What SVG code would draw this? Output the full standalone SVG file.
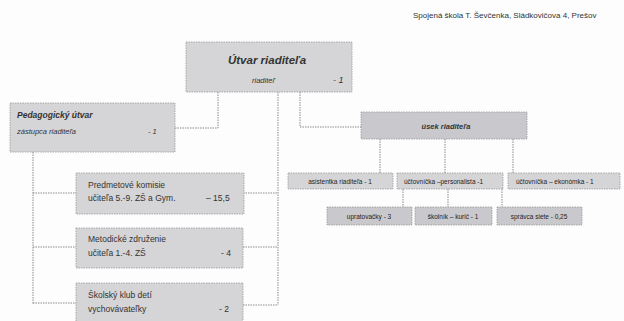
<svg xmlns="http://www.w3.org/2000/svg" width="624" height="321" viewBox="0 0 624 321">
<style>
text{font-family:"Liberation Sans",Arial,sans-serif;fill:#333}
.box{fill:#d5d5d7;stroke:#9a9a9a;stroke-width:0.8;stroke-dasharray:1.5,1}
.dark{fill:#c9c9cd}
.con{fill:none;stroke:#8a8a8a;stroke-width:1;stroke-dasharray:1.5,1}
.it{font-style:italic}
.s{font-size:7.5px}
.m{font-size:8.5px}
.t{font-size:6.5px;fill:#222}
</style>
<rect width="624" height="321" fill="#fdfdfd"/>
<text x="413" y="18" font-size="8">Spojená škola T. Ševčenka, Sládkovičova 4, Prešov</text>
<g id="connectors">
<path class="con" d="M218 92 V128 H175"/>
<path class="con" d="M278 92 V305"/>
<path class="con" d="M243 193 H278 M243 247 H278 M243 305 H278"/>
<path class="con" d="M300 92 V127 H361"/>
<path class="con" d="M33 152 V304 M33 193 H76 M33 247 H76 M33 303 H76"/>
<path class="con" d="M380 139 V173 M445 139 V173 M513 139 V173"/>
<path class="con" d="M403 189 V207 M448 189 V207 M502 189 V207"/>
</g>
<g id="n-utvar">
<rect class="box" x="186" y="42" width="166" height="50"/>
<text x="267" y="64" font-size="11.5" font-weight="bold" font-style="italic" text-anchor="middle">Útvar riaditeľa</text>
<text x="252" y="83" class="it s">riaditeľ</text>
<text x="333" y="83" class="it" font-size="9">- 1</text>
</g>
<g id="n-ped">
<rect class="box" x="10" y="103" width="165" height="49"/>
<text x="17" y="118" class="it m" font-weight="bold">Pedagogický útvar</text>
<text x="17" y="134" class="it s">zástupca riaditeľa</text>
<text x="148" y="134" class="it s">- 1</text>
</g>
<g id="n-pk">
<rect class="box" x="76" y="173" width="168" height="41"/>
<text x="88" y="188" class="m">Predmetové komisie</text>
<text x="88" y="201" class="m">učiteľa 5.-9. ZŠ a Gym.</text>
<text x="206" y="201" class="m">– 15,5</text>
</g>
<g id="n-mz">
<rect class="box" x="76" y="228" width="167" height="40"/>
<text x="88" y="242" class="m">Metodické združenie</text>
<text x="88" y="256" class="m">učiteľa 1.-4.  ZŠ</text>
<text x="221" y="256" class="m">- 4</text>
</g>
<g id="n-skd">
<rect class="box" x="76" y="283" width="167" height="42"/>
<text x="88" y="298" class="m">Školský klub detí</text>
<text x="88" y="312" class="m">vychovávateľky</text>
<text x="219" y="312" class="m">- 2</text>
</g>
<g id="n-usek">
<rect class="box dark" x="361" y="112" width="166" height="27"/>
<text x="446" y="129" class="it s" font-weight="bold" text-anchor="middle">úsek riaditeľa</text>
</g>
<g id="n-asist">
<rect class="box" x="288" y="173" width="105" height="16"/>
<text x="340" y="184" class="t" text-anchor="middle">asistentka riaditeľa - 1</text>
</g>
<g id="n-pers">
<rect class="box" x="397" y="173" width="106" height="16"/>
<text x="404" y="184" class="t">účtovníčka –personalista -1</text>
</g>
<g id="n-ekon">
<rect class="box" x="508" y="173" width="112" height="16"/>
<text x="516" y="184" class="t">účtovníčka – ekonómka  - 1</text>
</g>
<g id="n-uprat">
<rect class="box dark" x="327" y="207" width="85" height="18"/>
<text x="369" y="219" class="t" font-size="6" text-anchor="middle">upratovačky  - 3</text>
</g>
<g id="n-skol">
<rect class="box dark" x="415" y="207" width="77" height="18"/>
<text x="453" y="219" class="t" font-size="6" text-anchor="middle">školník – kurič - 1</text>
</g>
<g id="n-siet">
<rect class="box dark" x="497" y="207" width="85" height="18"/>
<text x="539" y="219" class="t" font-size="6" text-anchor="middle">správca siete  - 0,25</text>
</g>
</svg>
